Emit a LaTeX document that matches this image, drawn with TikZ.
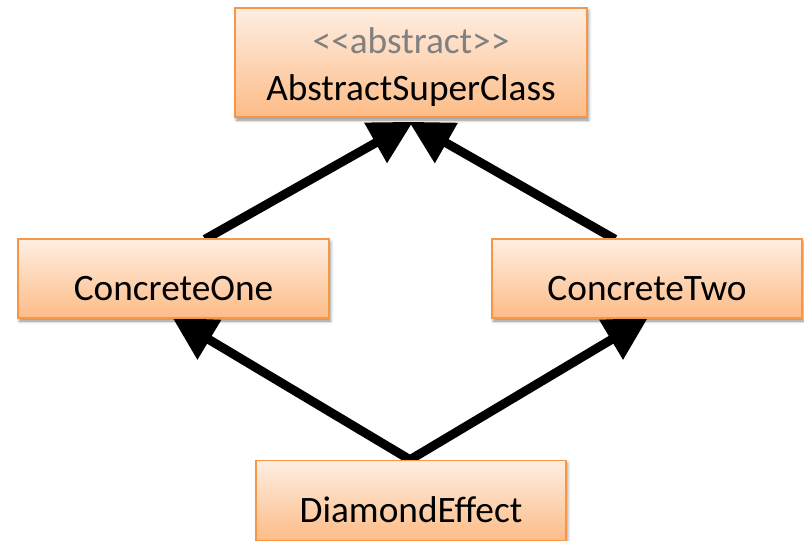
\documentclass[tikz,border=0pt]{standalone}
\usepackage{fontspec}
\setmainfont{Carlito}
\usetikzlibrary{arrows.meta,shadows.blur,backgrounds,calc}
\definecolor{boxtop}{HTML}{FEEEE2}
\definecolor{boxbot}{HTML}{FDBC87}
\definecolor{boxline}{HTML}{F79646}
\definecolor{stereo}{HTML}{808080}
\tikzset{
  classbox/.style={draw=boxline, line width=1.5pt, top color=boxtop, bottom color=boxbot,
    blur shadow={shadow xshift=1.5pt, shadow yshift=-3pt, shadow blur radius=3pt, shadow opacity=45},
    inner sep=0pt, font=\fontsize{37.3}{47}\selectfont, text height=43pt, text depth=0pt},
  inh/.style={line width=9pt, -{Triangle[length=43pt,width=44pt]}}
}
\begin{document}
\begin{tikzpicture}[x=1pt,y=-1pt]
\useasboundingbox (0,0) rectangle (804,541);
\node[classbox, minimum width=352pt, minimum height=109pt, text height=75pt] (abs) at (411,62.5) {AbstractSuperClass};
\node[anchor=base, text=stereo, font=\fontsize{37.3}{47}\selectfont, inner sep=0pt] (stereo) at (411,53) {<{}<abstract>{}>};
\node[classbox, minimum width=311pt, minimum height=79pt] (c1) at (173.5,278.5) {ConcreteOne};
\node[classbox, minimum width=310pt, minimum height=79pt] (c2) at (647,278.5) {ConcreteTwo};
\node[classbox, minimum width=310pt, minimum height=80pt] (de) at (411,500.5) {DiamondEffect};
\begin{scope}[on background layer]
\draw[inh] ($(c1.north)+(31.5,1)$) -- ($(abs.south)+(2,4)$);
\draw[inh] ($(c2.north)+(-32,1)$) -- ($(abs.south)+(-2,4)$);
\draw[inh] ($(de.north)+(-1,0)$) -- ($(c1.south)+(-1,-1)$);
\draw[inh] ($(de.north)+(-1,0)$) -- ($(c2.south)+(1,-1)$);
\end{scope}
\end{tikzpicture}
\end{document}
